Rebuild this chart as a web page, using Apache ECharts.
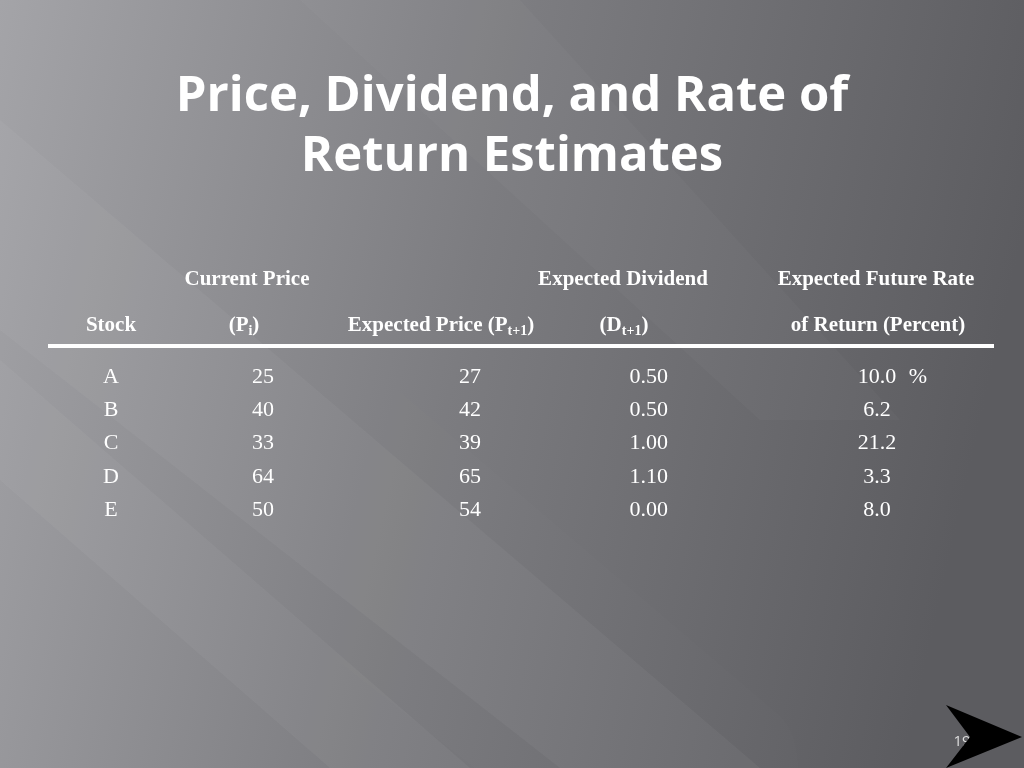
<!DOCTYPE html>
<html>
<head>
<meta charset="utf-8">
<script src="https://cdn.jsdelivr.net/npm/echarts@6/dist/echarts.min.js"></script>
<style>html,body{margin:0;padding:0;}#main{width:1024px;height:768px;}</style>
</head>
<body>
<div id="main"></div>
<script>
var chart = echarts.init(document.getElementById('main'));

var titleLines = ['Price, Dividend, and Rate of', 'Return Estimates'];
var stocks = ['A', 'B', 'C', 'D', 'E'];
var currentPrice = ['25', '40', '33', '64', '50'];
var expectedPrice = ['27', '42', '39', '65', '54'];
var expectedDividend = ['0.50', '0.50', '1.00', '1.10', '0.00'];
var rateOfReturn = ['10.0', '6.2', '21.2', '3.3', '8.0'];
var pageNumber = '19';

var serif = '"Liberation Serif", serif';
var rowY = [377, 410, 443, 477, 510];

var sub = {
    n: { fontFamily: serif, fontSize: 21, fontWeight: 'bold', fill: '#fff' },
    s: { fontFamily: serif, fontSize: 14, fontWeight: 'bold', fill: '#fff', padding: [10, 0, 0, 0] }
};

function txt(x, y, t, align, opts) {
    var st = Object.assign({
        text: t, x: x, y: y, textAlign: align || 'center', textVerticalAlign: 'middle',
        fill: '#fff', fontFamily: serif, fontSize: 22
    }, opts || {});
    return { type: 'text', style: st, z: 10 };
}
function head(x, y, t, align) {
    return txt(x, y, t, align, { fontSize: 21, fontWeight: 'bold', rich: sub });
}

var g = [];
// background
g.push({ type: 'rect', shape: { x: 0, y: 0, width: 1024, height: 768 },
    style: { fill: new echarts.graphic.LinearGradient(0, 0, 1, 0.3, [
        { offset: 0, color: '#a4a4a8' }, { offset: 0.5, color: '#7c7c80' }, { offset: 1, color: '#5c5c60' }]) } });
// soft diagonal light streaks
g.push({ type: 'polygon', shape: { points: [[0, 120], [0, 330], [560, 768], [760, 768]] },
    style: { fill: 'rgba(255,255,255,0.04)', shadowBlur: 40, shadowColor: 'rgba(255,255,255,0.1)' } });
g.push({ type: 'polygon', shape: { points: [[0, 360], [0, 480], [330, 768], [470, 768]] },
    style: { fill: 'rgba(255,255,255,0.04)' } });
g.push({ type: 'polygon', shape: { points: [[300, 0], [520, 0], [900, 420], [760, 420]] },
    style: { fill: 'rgba(255,255,255,0.025)' } });

// title
titleLines.forEach(function (t, i) {
    g.push(txt(512, 97 + i * 60, t, 'center',
        { fontFamily: '"Open Sans", sans-serif', fontSize: 49, fontWeight: 'bold' }));
});

// headers
g.push(head(247, 280, 'Current Price'));
g.push(head(623, 280, 'Expected Dividend'));
g.push(head(876, 280, 'Expected Future Rate'));
g.push(head(111, 326, 'Stock'));
g.push(head(244, 326, '{n|(P}{s|i}{n|)}'));
g.push(head(441, 326, '{n|Expected Price (P}{s|t+1}{n|)}'));
g.push(head(624, 326, '{n|(D}{s|t+1}{n|)}'));
g.push(head(878, 326, 'of Return (Percent)'));

g.push({ type: 'rect', shape: { x: 48, y: 344, width: 946, height: 4 }, style: { fill: '#fff' }, z: 10 });

stocks.forEach(function (s, i) {
    var y = rowY[i];
    g.push(txt(111, y, s));
    g.push(txt(274, y, currentPrice[i], 'right'));
    g.push(txt(481, y, expectedPrice[i], 'right'));
    g.push(txt(668, y, expectedDividend[i], 'right'));
    g.push(txt(877, y, rateOfReturn[i], 'center'));
});
g.push(txt(918, rowY[0], '%', 'center'));

// page number and arrow
g.push(txt(962, 742, pageNumber, 'center', { fontFamily: '"Open Sans", sans-serif', fontSize: 15, fill: '#ddd' }));
g.push({ type: 'polygon', shape: { points: [[946, 705], [1022, 737], [946, 768], [970, 737]] },
    style: { fill: '#000' }, z: 11 });

chart.setOption({ animation: false, graphic: g });
window.onresize = chart.resize;
</script>
</body>
</html>
